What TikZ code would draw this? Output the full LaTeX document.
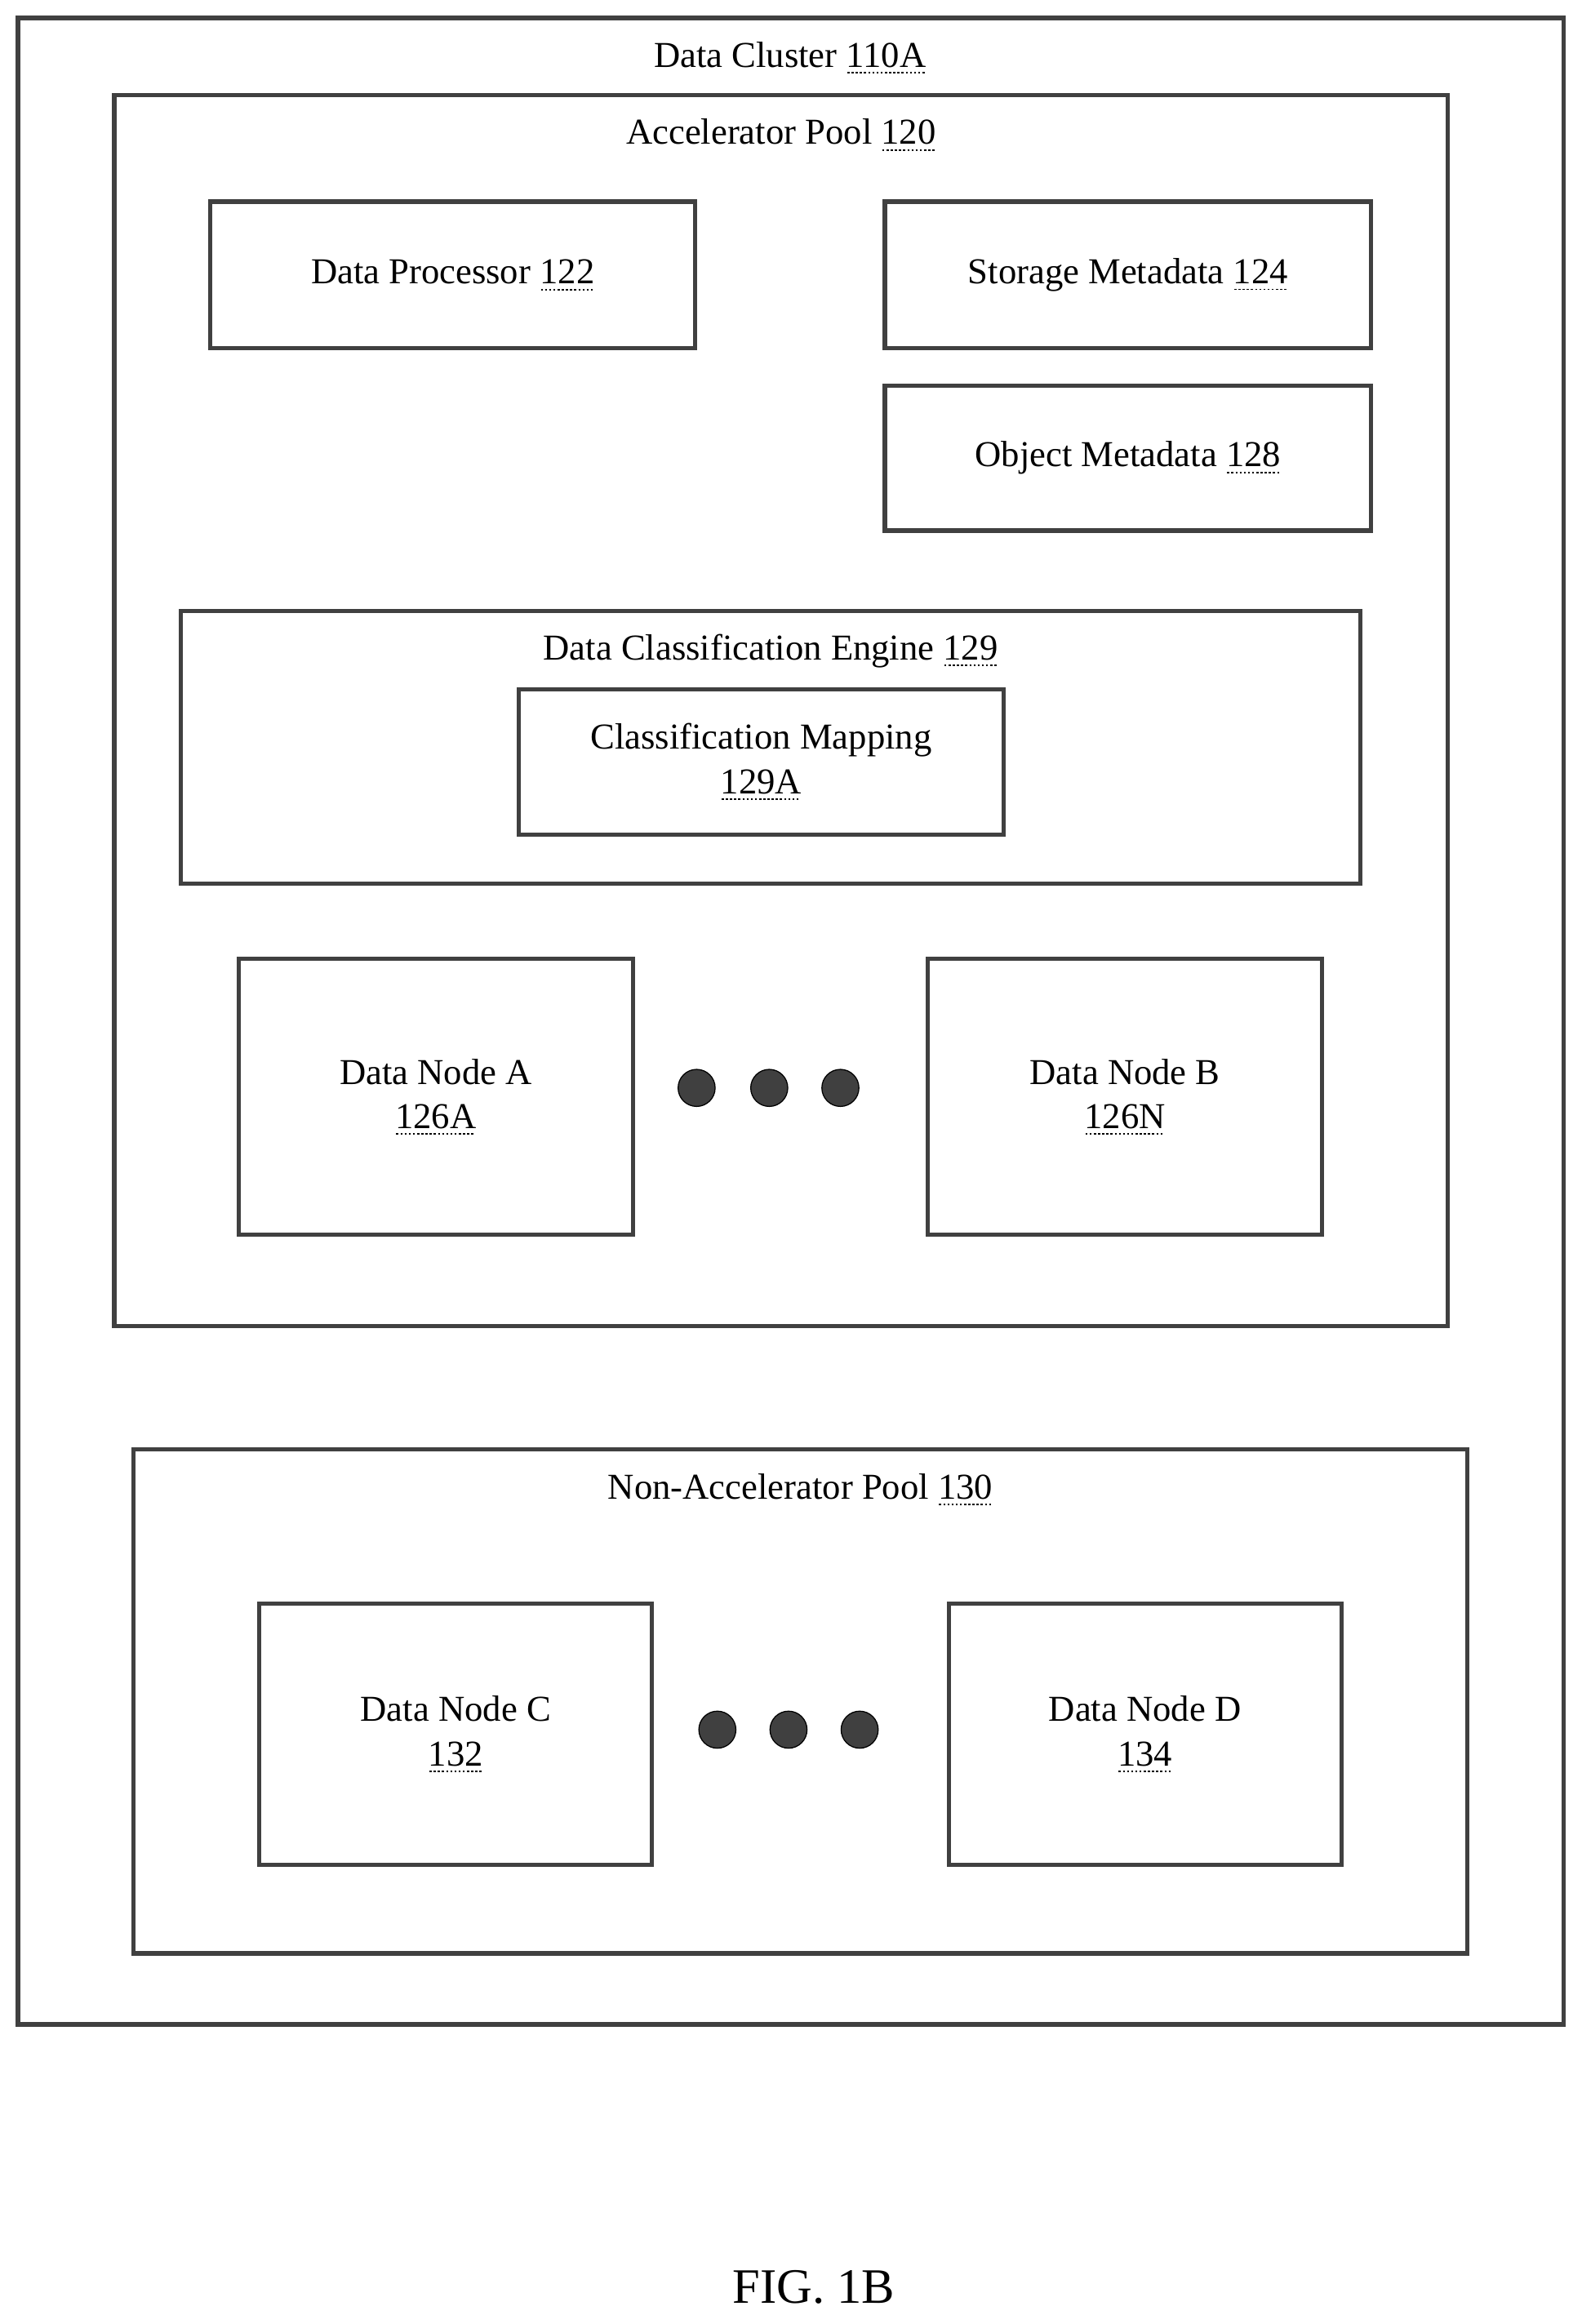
\documentclass[tikz,border=0pt]{standalone}
\usepackage{fontspec}
\setmainfont{Liberation Serif}
\usetikzlibrary{positioning}
\tikzset{
  box/.style={draw=black!75, line width=1.6pt, rectangle, inner sep=0pt},
  lbl/.style={font=\fontsize{14}{17}\selectfont, align=center},
  dot/.style={circle, fill=black!75, draw=black, minimum size=0.5cm, inner sep=0pt}
}
\newcommand{\refno}[1]{\setbox0\hbox{#1}\rlap{\raisebox{-2.5pt}{\hbox to \wd0{\leaders\hbox to 1.6pt{\hss\rule{0.8pt}{0.6pt}\hss}\hfill}}}\box0}
\begin{document}
\begin{tikzpicture}[x=0.02cm,y=-0.02cm]
  \useasboundingbox (0,0) rectangle (1067,1568);
  % data cluster
  \node[box, minimum width=20.86cm, minimum height=27.08cm] (cluster) at (533.5,689) {};
  \node[lbl] (clusterT) at (533,39) {Data Cluster \refno{110A}};
  % accelerator pool
  \node[box, minimum width=18cm, minimum height=16.62cm] (acc) at (527,479.5) {};
  \node[lbl] (accT) at (527,91) {Accelerator Pool \refno{120}};
  \node[box, lbl, minimum width=6.54cm, minimum height=1.98cm] (proc) at (305.5,185.5) {Data Processor \refno{122}};
  \node[box, lbl, minimum width=6.56cm, minimum height=1.98cm] (smeta) at (761,185.5) {Storage Metadata \refno{124}};
  \node[box, lbl, minimum width=6.56cm, minimum height=1.96cm] (ometa) at (761,309) {Object Metadata \refno{128}};
  % classification engine
  \node[box, minimum width=15.92cm, minimum height=3.68cm] (dce) at (520,504) {};
  \node[lbl] (dceT) at (520,439) {Data Classification Engine \refno{129}};
  \node[box, lbl, minimum width=6.54cm, minimum height=1.96cm] (cmap) at (513.5,514) {Classification Mapping\\\refno{129A}};
  % data nodes
  \node[box, lbl, minimum width=5.32cm, minimum height=3.72cm] (nodeA) at (294,740) {Data Node A\\\refno{126A}};
  \node[box, lbl, minimum width=5.32cm, minimum height=3.72cm] (nodeB) at (759,740) {Data Node B\\\refno{126N}};
  \foreach \x [count=\i] in {470,519,567} { \node[dot] (accdot\i) at (\x,734) {}; }
  % non-accelerator pool
  \node[box, minimum width=18cm, minimum height=6.8cm] (nacc) at (540,1148) {};
  \node[lbl] (naccT) at (540,1005) {Non-Accelerator Pool \refno{130}};
  \node[box, lbl, minimum width=5.3cm, minimum height=3.52cm] (nodeC) at (307.5,1170) {Data Node C\\\refno{132}};
  \node[box, lbl, minimum width=5.3cm, minimum height=3.52cm] (nodeD) at (772.5,1170) {Data Node D\\\refno{134}};
  \foreach \x [count=\i] in {484,532,580} { \node[dot] (naccdot\i) at (\x,1167) {}; }
  \node[font=\fontsize{19}{22}\selectfont] (fig) at (549,1543) {FIG. 1B};
\end{tikzpicture}
\end{document}
